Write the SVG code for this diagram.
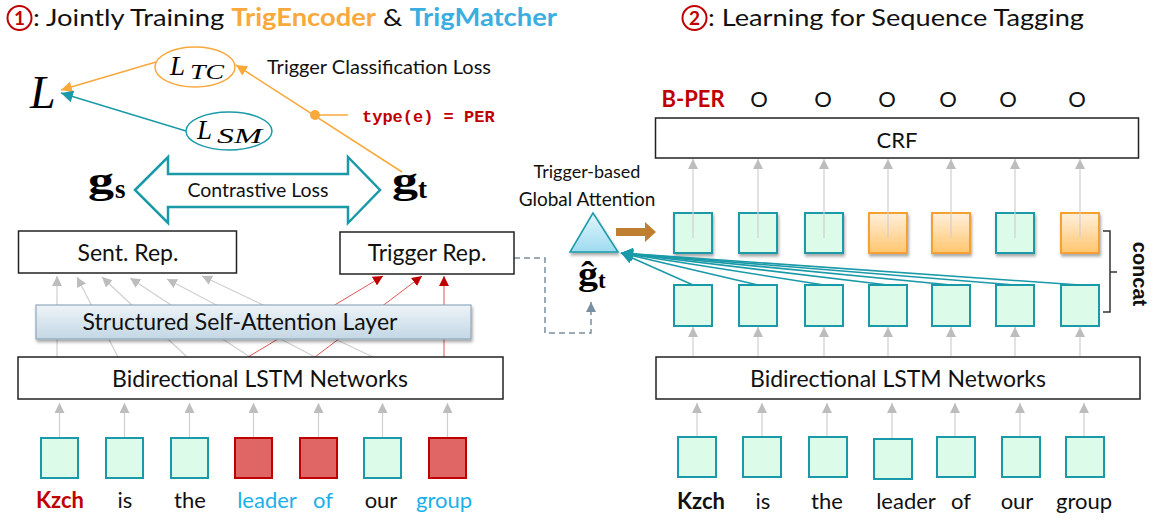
<svg xmlns="http://www.w3.org/2000/svg" width="1155" height="524" viewBox="0 0 1155 524">
<style>
.t{font-family:Lato,"Open Sans","Liberation Sans",sans-serif;fill:#111}
.m{font-family:"Liberation Serif","DejaVu Serif",serif;font-style:italic;fill:#000}
.b{font-family:"Liberation Serif","DejaVu Serif",serif;font-weight:bold;fill:#000}
.box{fill:#fff;stroke:#222;stroke-width:1.5}
.tb{fill:#dcfce9;stroke:#1a9aa8;stroke-width:2}
.rb{fill:#e06666;stroke:#c00000;stroke-width:2}
.ob{fill:url(#og);stroke:#f5a030;stroke-width:2}
.ga{stroke:#cfcfcf;stroke-width:1.2;fill:none;marker-end:url(#ag)}
.ra{stroke:#e05555;stroke-width:1;fill:none;marker-end:url(#ar)}
.ta{stroke:#1a9aa8;stroke-width:1.6;fill:none;marker-end:url(#at)}
</style>
<defs>
<marker id="ag" viewBox="0 0 10 10" refX="10" refY="5" markerWidth="10" markerHeight="10" markerUnits="userSpaceOnUse" orient="auto"><path d="M0,0L10,5L0,10z" fill="#bdbdbd"/></marker>
<marker id="ar" viewBox="0 0 10 10" refX="10" refY="5" markerWidth="10" markerHeight="10" markerUnits="userSpaceOnUse" orient="auto"><path d="M0,0L10,5L0,10z" fill="#c00000"/></marker>
<marker id="ao" viewBox="0 0 10 10" refX="10" refY="5" markerWidth="11" markerHeight="11" markerUnits="userSpaceOnUse" orient="auto"><path d="M0,0L10,5L0,10z" fill="#f9a83c"/></marker>
<marker id="at" viewBox="0 0 10 10" refX="10" refY="5" markerWidth="12" markerHeight="12" markerUnits="userSpaceOnUse" orient="auto"><path d="M0,0L10,5L0,10z" fill="#1a9aa8"/></marker>
<marker id="ad" viewBox="0 0 10 10" refX="10" refY="5" markerWidth="10" markerHeight="10" markerUnits="userSpaceOnUse" orient="auto"><path d="M0,0L10,5L0,10z" fill="#7a90a0"/></marker>
<linearGradient id="og" x1="0" y1="0" x2="0" y2="1"><stop offset="0" stop-color="#fff0dc"/><stop offset="1" stop-color="#ffc56e"/></linearGradient>
<linearGradient id="sg" x1="0" y1="0" x2="0" y2="1"><stop offset="0" stop-color="#edf4f9"/><stop offset="1" stop-color="#c3d7e4"/></linearGradient>
<linearGradient id="trg" x1="0" y1="0" x2="0" y2="1"><stop offset="0" stop-color="#e2f6fc"/><stop offset="1" stop-color="#9edbf0"/></linearGradient>
<filter id="sh" x="-20%" y="-20%" width="140%" height="160%"><feDropShadow dx="1" dy="2.5" stdDeviation="1.5" flood-color="#000" flood-opacity="0.35"/></filter>
</defs>

<!-- titles -->
<g id="title1">
<circle cx="19.5" cy="18" r="12" fill="none" stroke="#c00000" stroke-width="2"/>
<text x="19.5" y="25" class="t" font-size="19" text-anchor="middle" style="fill:#c00000" font-weight="bold">1</text>
<text x="33" y="26" class="t" font-size="24" textLength="524" lengthAdjust="spacingAndGlyphs">: Jointly Training <tspan style="fill:#f9a83c" font-weight="bold">TrigEncoder</tspan> &amp; <tspan style="fill:#3aaee0" font-weight="bold">TrigMatcher</tspan></text>
</g>
<g id="title2">
<circle cx="694.5" cy="18" r="12" fill="none" stroke="#c00000" stroke-width="2"/>
<text x="694.5" y="25" class="t" font-size="19" text-anchor="middle" style="fill:#c00000" font-weight="bold">2</text>
<text x="708" y="26" class="t" font-size="24" textLength="376" lengthAdjust="spacingAndGlyphs">: Learning for Sequence Tagging</text>
</g>

<!-- connectors -->
<g id="connectors">
<line x1="156" y1="62" x2="61" y2="90" stroke="#f9a83c" stroke-width="1.5" marker-end="url(#ao)"/>
<line x1="186" y1="131" x2="61" y2="93" stroke="#1a9aa8" stroke-width="1.5" marker-end="url(#at)"/>
<line x1="402" y1="172" x2="236" y2="65" stroke="#f9a83c" stroke-width="1.5" marker-end="url(#ao)"/>
<line x1="315" y1="115" x2="348" y2="115" stroke="#f9a83c" stroke-width="1.5"/>
<circle cx="315" cy="115" r="5" fill="#f9a83c"/>
<line class="ga" x1="57" y1="357" x2="57" y2="276"/>
<line class="ga" x1="118" y1="357" x2="77" y2="277"/>
<line class="ga" x1="187" y1="357" x2="102" y2="277"/>
<line class="ga" x1="250" y1="357" x2="130" y2="278"/>
<line class="ga" x1="315" y1="357" x2="167" y2="279"/>
<line class="ga" x1="373" y1="357" x2="202" y2="276"/>
<line class="ra" x1="248" y1="357" x2="383" y2="276"/>
<line class="ra" x1="315" y1="357" x2="422" y2="276"/>
<line class="ra" x1="444" y1="357" x2="444" y2="276"/>
<line class="ga" x1="59.5" y1="438" x2="59.5" y2="403"/>
<line class="ga" x1="124.5" y1="438" x2="124.5" y2="403"/>
<line class="ga" x1="189.5" y1="438" x2="189.5" y2="403"/>
<line class="ga" x1="253.5" y1="438" x2="253.5" y2="403"/>
<line class="ga" x1="318.5" y1="438" x2="318.5" y2="403"/>
<line class="ga" x1="382.5" y1="438" x2="382.5" y2="403"/>
<line class="ga" x1="447.5" y1="438" x2="447.5" y2="403"/>
<polyline points="514,258 545,258 545,333 591,333 591,302" fill="none" stroke="#7a90a0" stroke-width="1.5" stroke-dasharray="6,4" marker-end="url(#ad)"/>
<line class="ga" x1="697" y1="437" x2="697" y2="403"/>
<line class="ga" x1="762" y1="437" x2="762" y2="403"/>
<line class="ga" x1="827" y1="437" x2="827" y2="403"/>
<line class="ga" x1="892" y1="439" x2="892" y2="403"/>
<line class="ga" x1="955" y1="437" x2="955" y2="403"/>
<line class="ga" x1="1020" y1="437" x2="1020" y2="403"/>
<line class="ga" x1="1084" y1="437" x2="1084" y2="403"/>
<line class="ga" x1="693" y1="356" x2="693" y2="327"/>
<line class="ga" x1="758" y1="356" x2="758" y2="327"/>
<line class="ga" x1="824" y1="356" x2="824" y2="327"/>
<line class="ga" x1="888" y1="356" x2="888" y2="327"/>
<line class="ga" x1="951" y1="356" x2="951" y2="327"/>
<line class="ga" x1="1015" y1="356" x2="1015" y2="327"/>
<line class="ga" x1="1080" y1="356" x2="1080" y2="327"/>
</g>

<!-- left nodes -->
<g id="L"><text x="30" y="108" class="m" font-size="46">L</text></g>
<g id="LTC">
<ellipse cx="195" cy="67" rx="40" ry="20" fill="#fff" stroke="#f9a83c" stroke-width="1.5"/>
<text x="170" y="75" class="m" font-size="27">L</text>
<text x="190" y="79" class="m" font-size="21" textLength="34" lengthAdjust="spacingAndGlyphs">TC</text>
</g>
<g id="LSM">
<ellipse cx="229" cy="131" rx="43" ry="19" fill="#fff" stroke="#1a9aa8" stroke-width="1.5"/>
<text x="197" y="139" class="m" font-size="27">L</text>
<text x="217" y="143" class="m" font-size="21" textLength="45" lengthAdjust="spacingAndGlyphs">SM</text>
</g>
<g id="tcl"><text x="267" y="74" class="t" font-size="19" textLength="224" lengthAdjust="spacingAndGlyphs">Trigger Classification Loss</text></g>
<g id="type"><text x="362" y="122" font-family="'Liberation Mono','DejaVu Sans Mono',monospace" font-weight="bold" font-size="17" fill="#c00000">type(e) = PER</text></g>
<g id="contrastive">
<path d="M135,190 L168,157 L168,174 L348,174 L348,157 L380,190 L348,223 L348,207 L168,207 L168,223 Z" fill="#fff" stroke="#1a9aa8" stroke-width="2.5"/>
<text x="258" y="197" class="t" font-size="19.5" text-anchor="middle">Contrastive Loss</text>
</g>
<g id="gs"><text x="88" y="193" class="b" font-size="38" textLength="26" lengthAdjust="spacingAndGlyphs">g</text><text x="115" y="198" class="b" font-size="27">s</text></g>
<g id="gt"><text x="392" y="193" class="b" font-size="38" textLength="26" lengthAdjust="spacingAndGlyphs">g</text><text x="418" y="198" class="b" font-size="27">t</text></g>
<g id="sent"><rect class="box" x="18.5" y="231" width="218" height="42"/><text x="128" y="261" class="t" font-size="23" text-anchor="middle">Sent. Rep.</text></g>
<g id="trig"><rect class="box" x="340" y="232" width="174" height="42"/><text x="427" y="261" class="t" font-size="23" text-anchor="middle">Trigger Rep.</text></g>
<g id="ssa"><rect x="36" y="305" width="435" height="34" fill="url(#sg)" stroke="#8fa9bd" stroke-width="1.2" filter="url(#sh)"/><text x="240" y="330" class="t" font-size="23" text-anchor="middle">Structured Self-Attention Layer</text></g>
<g id="lstm1"><rect class="box" x="18" y="357" width="485" height="42"/><text x="260" y="387" class="t" font-size="23" text-anchor="middle">Bidirectional LSTM Networks</text></g>

<g id="words1">
<rect class="tb" x="41" y="438" width="37" height="40"/>
<rect class="tb" x="106" y="438" width="37" height="40"/>
<rect class="tb" x="171" y="438" width="37" height="40"/>
<rect class="rb" x="235" y="438" width="37" height="40"/>
<rect class="rb" x="300" y="438" width="37" height="40"/>
<rect class="tb" x="364" y="438" width="37" height="40"/>
<rect class="rb" x="429" y="438" width="37" height="40"/>
<g class="t" font-size="22" text-anchor="middle">
<text x="60" y="508" style="fill:#c00000" font-weight="bold">Kzch</text>
<text x="125" y="508">is</text>
<text x="190" y="508">the</text>
<text x="267" y="508" style="fill:#1ab0ea">leader</text>
<text x="323" y="508" style="fill:#1ab0ea">of</text>
<text x="381" y="508">our</text>
<text x="444" y="508" style="fill:#1ab0ea">group</text>
</g>
</g>

<!-- right nodes -->
<g id="tags" class="t" font-size="22" text-anchor="middle">
<text x="693" y="107" style="fill:#c00000" font-weight="bold">B-PER</text>
<text x="759" y="107">O</text>
<text x="823" y="107">O</text>
<text x="887" y="107">O</text>
<text x="948" y="107">O</text>
<text x="1008" y="107">O</text>
<text x="1077" y="107">O</text>
</g>
<g id="crf"><rect class="box" x="655.5" y="118" width="483" height="40"/><text x="897" y="148" class="t" font-size="22" text-anchor="middle">CRF</text></g>
<g id="gatt">
<text x="587" y="178" class="t" font-size="18" text-anchor="middle">Trigger-based</text>
<text x="587" y="206" class="t" font-size="19" text-anchor="middle">Global Attention</text>
<polygon points="593,213 570,252 618,252" fill="url(#trg)" stroke="#1a9aa8" stroke-width="1.5" filter="url(#sh)"/>
<text x="578" y="285" class="b" font-size="33" textLength="20" lengthAdjust="spacingAndGlyphs">ĝ</text>
<text x="598" y="288" class="b" font-size="23">t</text>
<path d="M616,228 L645,228 L645,222 L656,232 L645,242 L645,236 L616,236 Z" fill="#c07f30"/>
</g>
<g id="upper">
<g filter="url(#sh)">
<rect class="tb" x="674" y="213" width="38" height="40"/>
<rect class="tb" x="739" y="213" width="38" height="40"/>
<rect class="tb" x="805" y="213" width="38" height="40"/>
<rect class="ob" x="869" y="213" width="38" height="40"/>
<rect class="ob" x="932" y="213" width="38" height="40"/>
<rect class="tb" x="996" y="213" width="38" height="40"/>
<rect class="ob" x="1061" y="213" width="38" height="40"/>
</g>
<line class="ga" x1="693" y1="238" x2="693" y2="159"/>
<line class="ga" x1="758" y1="238" x2="758" y2="159"/>
<line class="ga" x1="824" y1="238" x2="824" y2="159"/>
<line class="ga" x1="888" y1="238" x2="888" y2="159"/>
<line class="ga" x1="951" y1="238" x2="951" y2="159"/>
<line class="ga" x1="1015" y1="238" x2="1015" y2="159"/>
<line class="ga" x1="1080" y1="238" x2="1080" y2="159"/>
</g>
<g id="lower">
<rect class="tb" x="674" y="285" width="38" height="41"/>
<rect class="tb" x="739" y="285" width="38" height="41"/>
<rect class="tb" x="805" y="285" width="38" height="41"/>
<rect class="tb" x="869" y="285" width="38" height="41"/>
<rect class="tb" x="932" y="285" width="38" height="41"/>
<rect class="tb" x="996" y="285" width="38" height="41"/>
<rect class="tb" x="1061" y="285" width="38" height="41"/>
</g>
<g id="attlines">
<line class="ta" x1="693" y1="285" x2="621" y2="253"/>
<line class="ta" x1="758" y1="285" x2="621" y2="253"/>
<line class="ta" x1="824" y1="285" x2="621" y2="253"/>
<line class="ta" x1="888" y1="285" x2="621" y2="253"/>
<line class="ta" x1="951" y1="285" x2="621" y2="253"/>
<line class="ta" x1="1015" y1="285" x2="621" y2="253"/>
<line class="ta" x1="1080" y1="285" x2="621" y2="253"/>
</g>
<g id="concat">
<path d="M1103,231 L1110,231 L1110,272 L1117,272 M1110,272 L1110,312 L1103,312" fill="none" stroke="#333" stroke-width="1.5"/>
<text x="1133" y="274" font-family="'Liberation Sans',Arial,sans-serif" font-size="20" font-weight="bold" fill="#111" text-anchor="middle" transform="rotate(90 1133 274)">concat</text>
</g>
<g id="lstm2"><rect class="box" x="656" y="357" width="484" height="42"/><text x="898" y="387" class="t" font-size="23" text-anchor="middle">Bidirectional LSTM Networks</text></g>
<g id="words2">
<rect class="tb" x="678" y="437" width="38" height="40"/>
<rect class="tb" x="743" y="437" width="38" height="40"/>
<rect class="tb" x="809" y="437" width="38" height="40"/>
<rect class="tb" x="874" y="439" width="38" height="40"/>
<rect class="tb" x="937" y="437" width="38" height="40"/>
<rect class="tb" x="1002" y="437" width="38" height="40"/>
<rect class="tb" x="1066" y="437" width="38" height="40"/>
<g class="t" font-size="22" text-anchor="middle">
<text x="701" y="509" font-weight="bold">Kzch</text>
<text x="763" y="509">is</text>
<text x="827" y="509">the</text>
<text x="906" y="509">leader</text>
<text x="961" y="509">of</text>
<text x="1017" y="509">our</text>
<text x="1084" y="509">group</text>
</g>
</g>
</svg>
